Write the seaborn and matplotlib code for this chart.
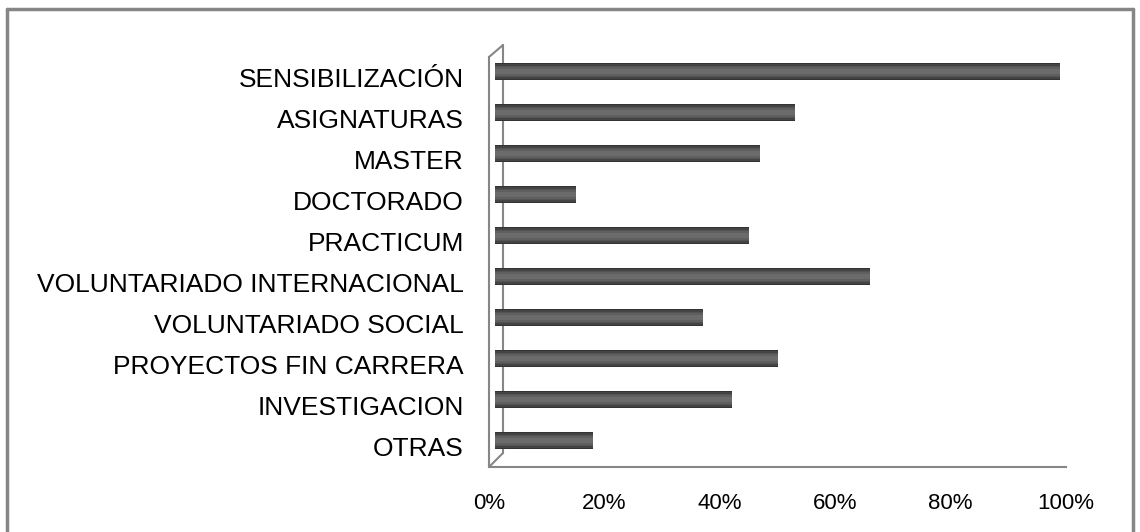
import matplotlib
matplotlib.use("Agg")
import matplotlib.pyplot as plt
import matplotlib.transforms as mtransforms
from matplotlib.ticker import PercentFormatter
from matplotlib.lines import Line2D
import seaborn as sns

# Data
categories = ['SENSIBILIZACIÓN', 'ASIGNATURAS', 'MASTER', 'DOCTORADO', 'PRACTICUM',
              'VOLUNTARIADO INTERNACIONAL', 'VOLUNTARIADO SOCIAL',
              'PROYECTOS FIN CARRERA', 'INVESTIGACION', 'OTRAS']
values = [0.98, 0.52, 0.46, 0.14, 0.44, 0.65, 0.36, 0.49, 0.41, 0.17]
xticks = [0, 0.2, 0.4, 0.6, 0.8, 1.0]

sns.set_style("white")
plt.rcParams['font.family'] = ['Liberation Sans', 'DejaVu Sans']

grey = '#868686'
fig = plt.figure(figsize=(11.4, 5.32), dpi=100)
ax = fig.add_axes([489 / 1140, 65 / 532, 577 / 1140, 410 / 532])

# cylinder look: stacked bars, narrower ones lighter
shades = [(0.42, '#333333'), (0.36, '#444444'), (0.28, '#535353'),
          (0.20, '#5f5f5f'), (0.10, '#6b6b6b')]
for w, c in shades:
    sns.barplot(x=values, y=categories, orient='h', color=c, width=w,
                saturation=1, ax=ax, linewidth=0, zorder=3)
# bars sit in the middle of the 3D depth: shift them right/up a few pixels
shift = mtransforms.ScaledTranslation(6 / 100, 6 / 100, fig.dpi_scale_trans)
for p in ax.patches:
    p.set_transform(ax.transData + shift)

ax.set_xlim(0, 1)
ax.set_ylim(9.5, -0.5)
ax.set_xticks(xticks)
ax.xaxis.set_major_formatter(PercentFormatter(1.0, decimals=0))
ax.set_yticks(range(len(categories)))
ax.set_yticks([i - 0.5 for i in range(len(categories) + 1)], minor=True)
ax.tick_params(axis='y', which='major', length=0, pad=18, labelsize=19, labelcolor='black')
ax.tick_params(axis='y', which='minor', length=4.5, color=grey, width=1.5, direction='out')
ax.tick_params(axis='x', length=5, color=grey, width=1.5, direction='out', pad=14,
               labelsize=16, labelcolor='black')
ax.set_xlabel('')
ax.set_ylabel('')

for side in ['top', 'right']:
    ax.spines[side].set_visible(False)
for side in ['left', 'bottom']:
    ax.spines[side].set_color(grey)
    ax.spines[side].set_linewidth(1.5)

# 3D wall outline (pixel offsets from the front axes corner), behind the bars
wall = dict(color=grey, lw=1.5, clip_on=False, zorder=1)
back = Line2D([0, 0], [14 / 410, 1 + 12 / 410],
              transform=ax.transAxes + mtransforms.ScaledTranslation(14 / 100, 0, fig.dpi_scale_trans), **wall)
ax.add_line(back)
ax.add_line(Line2D([0, 14 / 577], [1, 1 + 12 / 410], transform=ax.transAxes, **wall))
ax.add_line(Line2D([0, 14 / 577], [0, 14 / 410], transform=ax.transAxes, **wall))

# outer chart border
fig.add_artist(Line2D([7 / 1140, 7 / 1140], [0, 1 - 9 / 532], color=grey, lw=2.5))
fig.add_artist(Line2D([7 / 1140, 1133 / 1140], [1 - 9 / 532, 1 - 9 / 532], color=grey, lw=2.5))
fig.add_artist(Line2D([1133 / 1140, 1133 / 1140], [0, 1 - 9 / 532], color=grey, lw=2.5))

plt.savefig("out.png", dpi=100)
